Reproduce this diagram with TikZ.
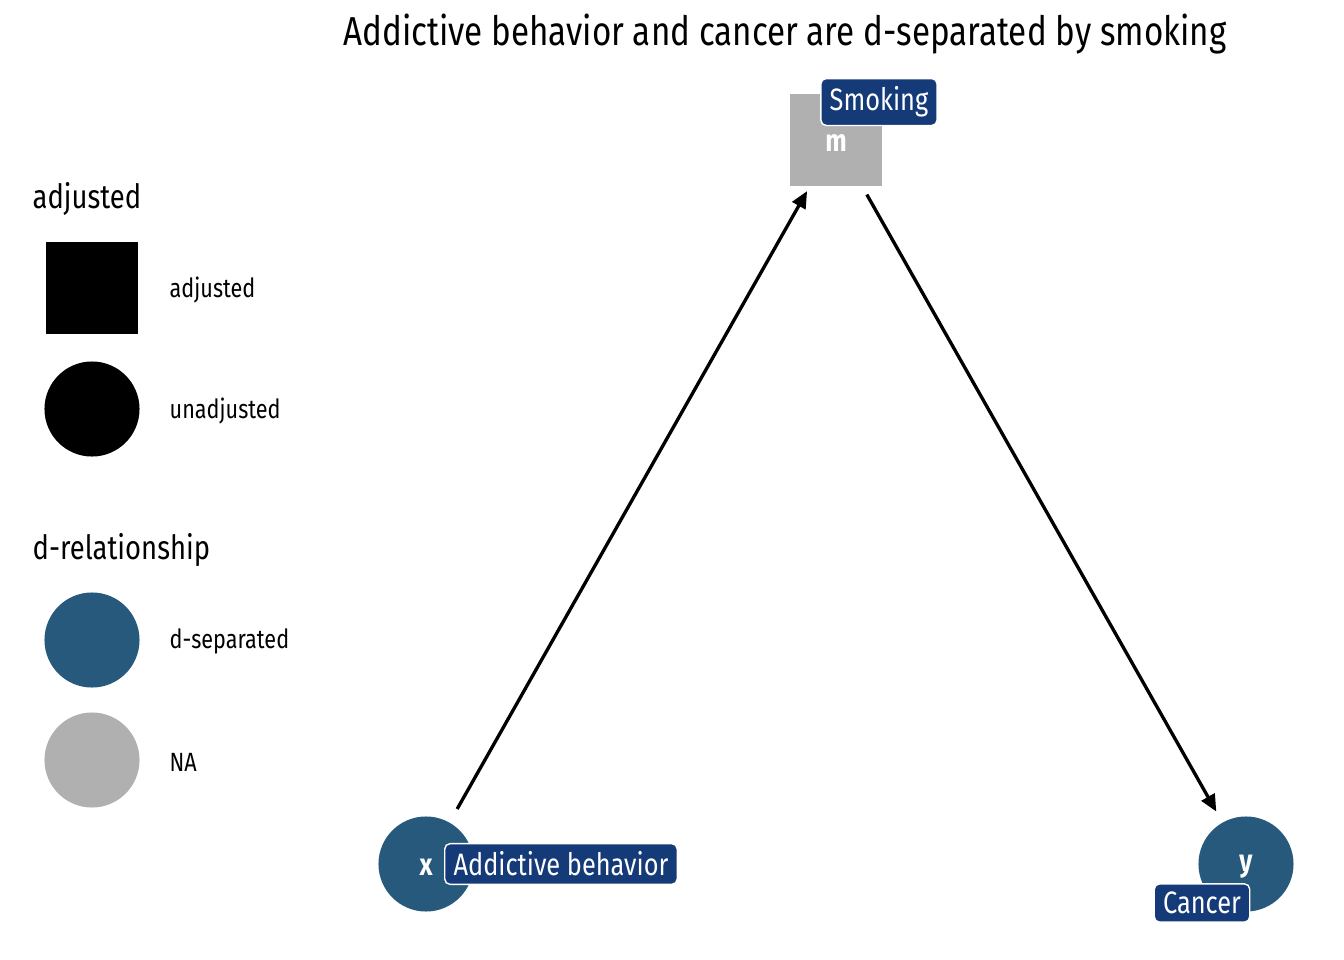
\documentclass[tikz,border=0pt]{standalone}
\usepackage{fontspec}
\setmainfont{Fira Sans}[FakeStretch=0.82]
\usetikzlibrary{arrows.meta}
\definecolor{dsep}{HTML}{26597B}
\definecolor{na}{HTML}{B0B0B0}
\definecolor{lab}{HTML}{143A78}

\begin{document}
\begin{tikzpicture}[x=0.01cm,y=-0.01cm,
    var/.style={circle,fill=dsep,minimum size=0.95cm,inner sep=0pt},
    sq/.style={rectangle,fill=na,minimum size=0.92cm,inner sep=0pt},
    lbl/.style={fill=lab,draw=white,line width=0.4pt,rounded corners=1.5pt,text=white,font=\fontsize{8.8}{10}\selectfont,inner xsep=2.5pt,inner ysep=2.3pt},
    vname/.style={text=white,font=\fontsize{8.8}{10}\selectfont\bfseries},
    key/.style={anchor=west,inner xsep=0pt,font=\fontsize{7.5}{9}\selectfont},
    head/.style={anchor=west,inner xsep=0pt,font=\fontsize{9.5}{11}\selectfont},
    edge/.style={-{Triangle[length=4.8pt,width=4.2pt]},line width=0.95pt}]
        \useasboundingbox (0,0) rectangle (1344,960);
        % Title
        \node[font=\fontsize{11.5}{13}\selectfont] (title) at (785,34) {Addictive behavior and cancer are d-separated by smoking};
        % Legend
        \node[head] (hadj) at (32,199) {adjusted};
        \node[rectangle,fill=black,minimum size=0.92cm,inner sep=0pt] (ladj) at (92,288) {};
        \node[circle,fill=black,minimum size=0.95cm,inner sep=0pt] (lunadj) at (92,409) {};
        \node[key] at (169,290) {adjusted};
        \node[key] at (169,411) {unadjusted};
        \node[head] (hrel) at (32,550) {d-relationship};
        \node[var] (lsep) at (92,640) {};
        \node[var,fill=na] (lna) at (92,760) {};
        \node[key] at (169,641) {d-separated};
        \node[key] at (169,762) {NA};
        % Nodes
        \node[sq] (m) at (836,140) {};
        \node[var] (x) at (426,864) {};
        \node[var] (y) at (1246,864) {};
        \node[vname] at (836,143) {m};
        \node[vname] at (426,867) {x};
        \node[vname] at (1246,867) {y};
        % Edges
        \draw[edge,shorten <=0.15cm,shorten >=0.05cm] (x) -- (m);
        \draw[edge,shorten <=0.09cm,shorten >=0.12cm] (m) -- (y);
        % Labels
        \node[lbl] (lm) at (879,102) {Smoking};
        \node[lbl] (lx) at (561,864) {Addictive behavior};
        \node[lbl] (ly) at (1202,903) {Cancer};
    \end{tikzpicture}
\end{document}
